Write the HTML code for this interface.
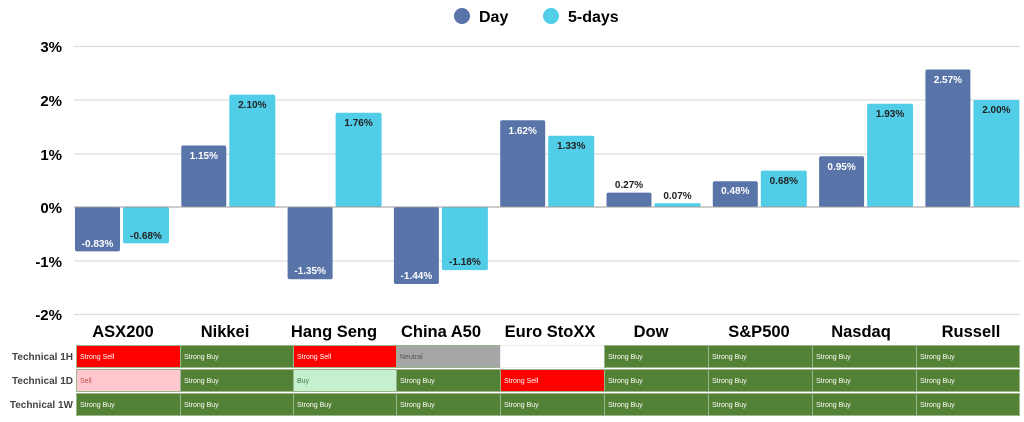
<!DOCTYPE html>
<html><head><style>
body{margin:0;width:1024px;height:422px;background:#fff;overflow:hidden;position:relative;font-family:"Liberation Sans",sans-serif}
svg{position:absolute;left:0;top:0}
.c{position:absolute;height:23px;font-size:7px;line-height:23px;padding-left:3px;box-sizing:border-box;border:1px solid #9db58a;color:#fff}
.g{background:#538135}.r{background:#ff0000}.n{background:#a6a6a6;color:#555}.p{background:#ffc7ce;color:#c0504d}.l{background:#c6efce;color:#3a7d3a}.w{background:#fff;border-color:#eee}
.h{position:absolute;left:0;width:73px;text-align:right;font-size:10px;font-weight:bold;color:#444;height:23px;line-height:23px}
</style></head><body>
<svg width="1024" height="422" font-family="Liberation Sans, sans-serif">
<circle cx="462" cy="16" r="8" fill="#5874a8"/><text x="479" y="22" font-size="16" font-weight="bold">Day</text>
<circle cx="551" cy="16" r="8" fill="#52cde8"/><text x="568" y="22" font-size="16" font-weight="bold">5-days</text>
<g stroke="#ddd" stroke-width="1.2">
<line x1="74" x2="1020" y1="46.5" y2="46.5"/><line x1="74" x2="1020" y1="100" y2="100"/><line x1="74" x2="1020" y1="154" y2="154"/><line x1="74" x2="1020" y1="261" y2="261"/><line x1="74" x2="1020" y1="314.5" y2="314.5"/></g>
<g font-size="15" font-weight="bold" text-anchor="end">
<text x="62" y="52">3%</text><text x="62" y="106">2%</text><text x="62" y="160">1%</text><text x="62" y="213">0%</text><text x="62" y="267">-1%</text><text x="62" y="320">-2%</text></g>
<g fill="#5874a8">
<rect x="75" y="207" width="45" height="44.4" rx="2"/>
<rect x="181.3" y="145.5" width="45" height="61.5" rx="2"/>
<rect x="287.6" y="207" width="45" height="72.2" rx="2"/>
<rect x="393.9" y="207" width="45" height="77" rx="2"/>
<rect x="500.2" y="120.3" width="45" height="86.7" rx="2"/>
<rect x="606.5" y="192.6" width="45" height="14.4" rx="2"/>
<rect x="712.8" y="181.3" width="45" height="25.7" rx="2"/>
<rect x="819.1" y="156.2" width="45" height="50.8" rx="2"/>
<rect x="925.4" y="69.5" width="45" height="137.5" rx="2"/></g>
<g fill="#52cde8">
<rect x="123" y="207" width="46" height="36.4" rx="2"/>
<rect x="229.3" y="94.6" width="46" height="112.4" rx="2"/>
<rect x="335.6" y="112.8" width="46" height="94.2" rx="2"/>
<rect x="441.9" y="207" width="46" height="63.1" rx="2"/>
<rect x="548.2" y="135.8" width="46" height="71.2" rx="2"/>
<rect x="654.5" y="203.3" width="46" height="3.7" rx="1"/>
<rect x="760.8" y="170.6" width="46" height="36.4" rx="2"/>
<rect x="867.1" y="103.7" width="46" height="103.3" rx="2"/>
<rect x="973.4" y="100" width="46" height="107" rx="2"/></g>
<line x1="74" x2="1020" y1="207" y2="207" stroke="#999" stroke-width="1"/>
<g font-size="10" font-weight="bold" text-anchor="middle" fill="#fff">
<text x="97.5" y="247">-0.83%</text><text x="203.8" y="159">1.15%</text><text x="310.1" y="274">-1.35%</text><text x="416.4" y="279">-1.44%</text><text x="522.7" y="134">1.62%</text><text x="735.3" y="194">0.48%</text><text x="841.6" y="170">0.95%</text><text x="947.9" y="83">2.57%</text></g>
<g font-size="10" font-weight="bold" text-anchor="middle" fill="#222">
<text x="146" y="239">-0.68%</text><text x="252.3" y="108">2.10%</text><text x="358.6" y="126">1.76%</text><text x="464.9" y="265">-1.18%</text><text x="571.2" y="149">1.33%</text><text x="629" y="188">0.27%</text><text x="677.5" y="199">0.07%</text><text x="783.8" y="184">0.68%</text><text x="890.1" y="117">1.93%</text><text x="996.4" y="113">2.00%</text></g>
<g font-size="16.5" font-weight="bold" text-anchor="middle">
<text x="123" y="337">ASX200</text><text x="225" y="337">Nikkei</text><text x="334" y="337">Hang Seng</text><text x="441" y="337">China A50</text><text x="550" y="337">Euro StoXX</text><text x="651" y="337">Dow</text><text x="759" y="337">S&amp;P500</text><text x="861" y="337">Nasdaq</text><text x="971" y="337">Russell</text></g>
</svg>
<div class="h" style="top:346px">Technical 1H</div>
<div class="h" style="top:370px">Technical 1D</div>
<div class="h" style="top:394px">Technical 1W</div>

<div class="c r" style="left:76px;top:345px;width:105px">Strong Sell</div>
<div class="c g" style="left:180px;top:345px;width:114px">Strong Buy</div>
<div class="c r" style="left:293px;top:345px;width:104px">Strong Sell</div>
<div class="c n" style="left:396px;top:345px;width:105px">Neutral</div>
<div class="c w" style="left:500px;top:345px;width:105px"></div>
<div class="c g" style="left:604px;top:345px;width:105px">Strong Buy</div>
<div class="c g" style="left:708px;top:345px;width:105px">Strong Buy</div>
<div class="c g" style="left:812px;top:345px;width:105px">Strong Buy</div>
<div class="c g" style="left:916px;top:345px;width:104px">Strong Buy</div>

<div class="c p" style="left:76px;top:369px;width:105px">Sell</div>
<div class="c g" style="left:180px;top:369px;width:114px">Strong Buy</div>
<div class="c l" style="left:293px;top:369px;width:104px">Buy</div>
<div class="c g" style="left:396px;top:369px;width:105px">Strong Buy</div>
<div class="c r" style="left:500px;top:369px;width:105px">Strong Sell</div>
<div class="c g" style="left:604px;top:369px;width:105px">Strong Buy</div>
<div class="c g" style="left:708px;top:369px;width:105px">Strong Buy</div>
<div class="c g" style="left:812px;top:369px;width:105px">Strong Buy</div>
<div class="c g" style="left:916px;top:369px;width:104px">Strong Buy</div>

<div class="c g" style="left:76px;top:393px;width:105px">Strong Buy</div>
<div class="c g" style="left:180px;top:393px;width:114px">Strong Buy</div>
<div class="c g" style="left:293px;top:393px;width:104px">Strong Buy</div>
<div class="c g" style="left:396px;top:393px;width:105px">Strong Buy</div>
<div class="c g" style="left:500px;top:393px;width:105px">Strong Buy</div>
<div class="c g" style="left:604px;top:393px;width:105px">Strong Buy</div>
<div class="c g" style="left:708px;top:393px;width:105px">Strong Buy</div>
<div class="c g" style="left:812px;top:393px;width:105px">Strong Buy</div>
<div class="c g" style="left:916px;top:393px;width:104px">Strong Buy</div>
</body></html>
